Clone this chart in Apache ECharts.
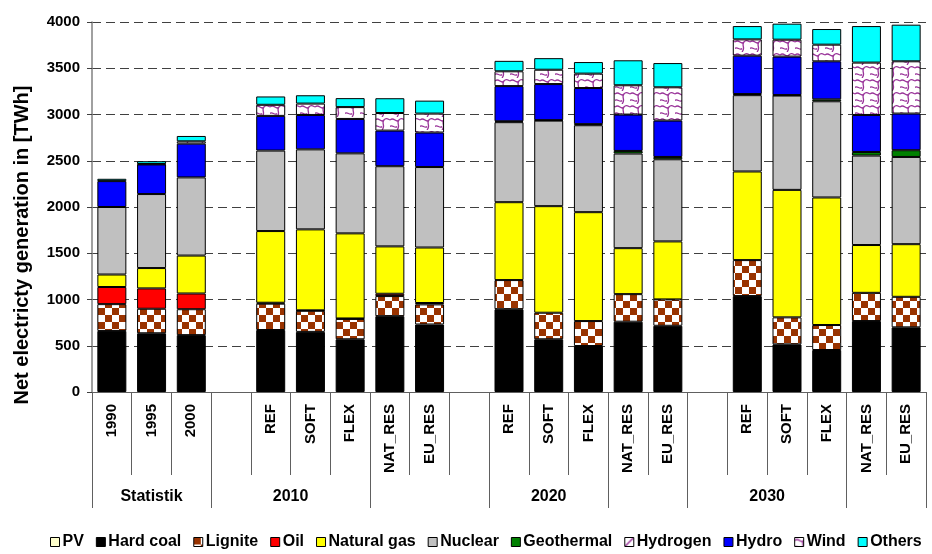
<!DOCTYPE html>
<html>
<head>
<meta charset="utf-8">
<title>Net electricity generation</title>
<script src="https://cdn.jsdelivr.net/npm/echarts@6/dist/echarts.min.js"></script>
<style>
  html, body { margin: 0; padding: 0; background: #fff; }
  #chart { width: 932px; height: 554px; }
</style>
</head>
<body>
<div id="chart"></div>
<script>
// Categories (empty strings are spacer columns between scenario years)
const categories = ['1990', '1995', '2000', '', 'REF', 'SOFT', 'FLEX', 'NAT_RES', 'EU_RES', '',
  'REF', 'SOFT', 'FLEX', 'NAT_RES', 'EU_RES', '', 'REF', 'SOFT', 'FLEX', 'NAT_RES', 'EU_RES'];

// Second-level labels and the category spans they cover
const groupNames = ['Statistik', '2010', '2020', '2030'];
const groupSpans = [[0, 3], [3, 7], [10, 13], [15, 19]];
const groupBoundaries = [0, 3, 7, 10, 13, 15, 19, 21];

// Net generation in TWh
const pv         = [0, 0, 0, null, 0, 0, 0, 0, 0, null, 0, 0, 0, 0, 0, null, 0, 0, 0, 0, 0];
const hardCoal   = [660, 635, 615, null, 670, 650, 570, 820, 730, null, 895, 570, 497, 760, 716, null, 1037, 515, 454, 767, 699];
const lignite    = [290, 265, 280, null, 285, 228, 220, 217, 217, null, 315, 287, 270, 298, 285, null, 389, 292, 270, 305, 330];
const oil        = [185, 220, 170, null, 10, 5, 5, 25, 15, null, 0, 0, 0, 0, 0, null, 0, 0, 0, 0, 0];
const naturalGas = [135, 220, 410, null, 775, 875, 920, 512, 600, null, 842, 1152, 1177, 497, 627, null, 958, 1378, 1379, 517, 569];
const nuclear    = [730, 800, 845, null, 870, 865, 865, 867, 870, null, 865, 925, 940, 1023, 888, null, 825, 1020, 1040, 967, 943];
const geothermal = [0, 0, 0, null, 0, 0, 0, 0, 0, null, 10, 5, 12, 28, 25, null, 12, 5, 21, 39, 73];
const hydrogen   = [0, 0, 0, null, 0, 0, 0, 0, 0, null, 0, 0, 0, 0, 0, null, 0, 0, 0, 0, 0];
const hydro      = [280, 320, 365, null, 375, 372, 372, 385, 373, null, 380, 390, 390, 393, 393, null, 415, 416, 411, 400, 396];
const wind       = [0, 5, 25, null, 120, 123, 128, 190, 205, null, 160, 155, 156, 317, 360, null, 176, 183, 180, 566, 565];
const others     = [25, 30, 58, null, 90, 90, 97, 160, 140, null, 113, 125, 125, 270, 262, null, 144, 173, 169, 395, 396];

const yTicks = { min: 0, max: 4000, step: 500 };

const FONT = '"Liberation Sans", Arial, Helvetica, sans-serif';

// ---- fill patterns ----
function makeTile(w, h, draw) {
  const c = document.createElement('canvas');
  c.width = w; c.height = h;
  const ctx = c.getContext('2d');
  ctx.fillStyle = '#ffffff';
  ctx.fillRect(0, 0, w, h);
  draw(ctx);
  return { image: c, repeat: 'repeat' };
}

const checkerFill = makeTile(14, 14, ctx => {
  ctx.fillStyle = '#993300';
  ctx.fillRect(0, 0, 7, 7);
  ctx.fillRect(7, 7, 7, 7);
});

const waveFill = makeTile(15, 13, ctx => {
  ctx.strokeStyle = '#993399';
  ctx.lineWidth = 1.3;
  ctx.beginPath();
  ctx.moveTo(0, 3);
  ctx.bezierCurveTo(4, -1, 6, 7, 9, 3);
  ctx.bezierCurveTo(11, 0, 13, 2, 15, 3);
  ctx.moveTo(9, 3);
  ctx.bezierCurveTo(6, 6, 11, 9, 7, 13);
  ctx.moveTo(0, 9.5);
  ctx.bezierCurveTo(2, 7, 5, 12, 7, 9.5);
  ctx.stroke();
});

const diagFill = makeTile(9, 9, ctx => {
  ctx.strokeStyle = '#993399';
  ctx.lineWidth = 1.5;
  ctx.beginPath();
  ctx.moveTo(0, 9);
  ctx.lineTo(9, 0);
  ctx.stroke();
});

const seriesDefs = [
  ['PV', pv, '#FFFFCC'],
  ['Hard coal', hardCoal, '#000000'],
  ['Lignite', lignite, checkerFill],
  ['Oil', oil, '#FF0000'],
  ['Natural gas', naturalGas, '#FFFF00'],
  ['Nuclear', nuclear, '#C0C0C0'],
  ['Geothermal', geothermal, '#008000'],
  ['Hydrogen', hydrogen, diagFill],
  ['Hydro', hydro, '#0000FF'],
  ['Wind', wind, waveFill],
  ['Others', others, '#00FFFF']
];

const series = seriesDefs.map(([name, values, color]) => ({
  name: name,
  type: 'bar',
  stack: 'total',
  xAxisIndex: 0,
  yAxisIndex: 0,
  barWidth: 29,
  data: values.map(v => (v === null || v === 0) ? '-' : v),
  itemStyle: { color: color, borderColor: '#000', borderWidth: 1 },
  emphasis: { disabled: true }
}));

const groupLabelAt = {};
groupSpans.forEach(([a, b], i) => { groupLabelAt[(a + b) / 2] = groupNames[i]; });

const chart = echarts.init(document.getElementById('chart'), null, { renderer: 'canvas' });
chart.setOption({
  animation: false,
  backgroundColor: '#ffffff',
  textStyle: { fontFamily: FONT },
  grid: { left: 92, right: 6, top: 22, bottom: 162, containLabel: false },
  legend: {
    bottom: 4,
    left: 50,
    icon: 'rect',
    itemWidth: 9,
    itemHeight: 9,
    itemGap: 12,
    padding: 0,
    itemStyle: { borderColor: '#000', borderWidth: 1 },
    textStyle: { fontFamily: FONT, fontWeight: 'bold', fontSize: 16, color: '#000', padding: [0, 0, 0, -2] },
    data: seriesDefs.map(d => d[0])
  },
  xAxis: [
    {
      type: 'category',
      data: categories,
      position: 'bottom',
      axisLine: { show: true, lineStyle: { color: '#606060', width: 1 } },
      axisTick: { show: true, interval: 0, length: 83, lineStyle: { color: '#606060' } },
      axisLabel: {
        interval: 0, rotate: 90, margin: 12,
        fontFamily: FONT, fontWeight: 'bold', fontSize: 15, color: '#000'
      },
      splitLine: { show: false }
    },
    {
      type: 'value',
      min: 0,
      max: categories.length,
      position: 'bottom',
      axisLine: { show: false },
      splitLine: { show: false },
      axisTick: { show: true, customValues: groupBoundaries, length: 116, lineStyle: { color: '#606060' } },
      axisLabel: {
        customValues: groupSpans.map(([a, b]) => (a + b) / 2),
        formatter: v => groupLabelAt[v] || '',
        margin: 97,
        fontFamily: FONT, fontWeight: 'bold', fontSize: 16, color: '#000'
      }
    }
  ],
  yAxis: {
    type: 'value',
    min: yTicks.min,
    max: yTicks.max,
    interval: yTicks.step,
    axisLine: { show: true, lineStyle: { color: '#808080', width: 1.5 } },
    axisTick: { show: true, length: 5, lineStyle: { color: '#404040' } },
    axisLabel: {
      margin: 12, formatter: v => String(v),
      fontFamily: FONT, fontWeight: 'bold', fontSize: 15, color: '#000'
    },
    splitLine: { show: true, lineStyle: { color: '#404040', type: [9, 5], width: 1 } }
  },
  graphic: [{
    type: 'text',
    x: 22,
    y: 245,
    rotation: Math.PI / 2,
    style: {
      text: 'Net electricty generation in [TWh]',
      font: 'bold 20px ' + FONT,
      fill: '#000',
      align: 'center',
      verticalAlign: 'middle'
    }
  }],
  series: series
});
</script>
</body>
</html>
